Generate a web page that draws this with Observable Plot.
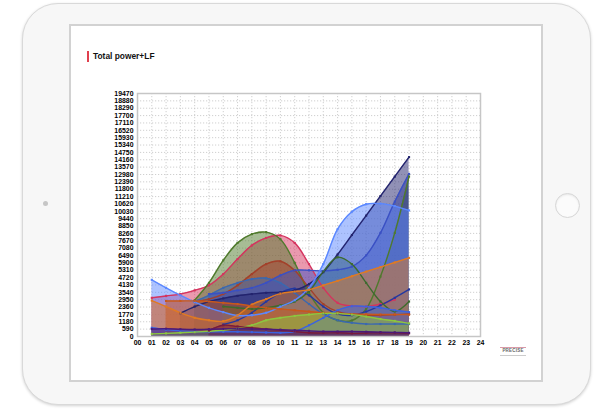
<!DOCTYPE html>
<html><head><meta charset="utf-8">
<script src="https://cdn.jsdelivr.net/npm/d3@7"></script>
<script src="https://cdn.jsdelivr.net/npm/@observablehq/plot@0.6"></script>
<style>
html,body{margin:0;padding:0;background:#fff;width:606px;height:411px;overflow:hidden;font-family:"Liberation Sans",Arial,sans-serif;}
#tablet{position:absolute;left:22px;top:3px;width:569px;height:402px;border-radius:36px;background:#f7f7f7;border:1px solid #d9d9d9;box-shadow:0 1px 3px rgba(0,0,0,0.18);box-sizing:border-box;}
#screen{position:absolute;left:69px;top:24px;width:474px;height:358px;background:#fff;border:2px solid #d2d2d2;box-sizing:border-box;}
#home{position:absolute;left:555px;top:193px;width:25px;height:25px;border-radius:50%;border:1px solid #d6d6d6;box-sizing:border-box;background:#fbfbfb;box-shadow:inset 0 1px 2px rgba(0,0,0,0.08)}
#cam{position:absolute;left:43px;top:201px;width:5px;height:5px;border-radius:50%;background:#c6c6c6}
#title{position:absolute;left:87px;top:51px;border-left:2px solid #e0404e;padding-left:4px;font-weight:bold;font-size:8.4px;line-height:11px;color:#111}
#chart{position:absolute;left:70px;top:80px}
#logo{position:absolute;left:500px;top:343px;width:26px;text-align:center;font-size:4.5px;font-weight:bold;color:#666;letter-spacing:0.2px;line-height:6px}
#logo .sky{height:4px;border-bottom:1px solid #d99aa8;margin-bottom:0px}
#logo .sub{border-top:1px solid #ccc;height:1px;margin-top:1px}
</style>
</head><body>
<div id="tablet"></div>
<div id="cam"></div>
<div id="home"></div>
<div id="screen"></div>
<div id="title">Total power+LF</div>
<div id="chart"></div>
<div id="logo"><div class="sky"></div>PRECISE<div class="sub"></div></div>
<script>
const hours = d3.range(1, 20);
const xTicks = d3.range(0, 25);
const yTicks = d3.range(0, 19471, 590);

const names  = ["purple","maroon","lime","blue2","darkorange","orange","darkblue","darkgreen","steel","sienna","olive","crimson","royal","navy","cornflower"];
const colors = ["#4a1a7a","#7a1a3a","#8cc63f","#3b62e0","#c8581c","#e07a22","#2438a0","#3d6b2e","#3a68b0","#a3402a","#4f7a2c","#d5335e","#3a50c4","#23246e","#5b88ff"];

const cornflower = [4540,3900,3300,2750,2300,1950,1680,1700,1900,2400,2900,3900,5800,8600,10000,10600,10650,10450,10100];
const crimson    = [3100,3250,3400,3700,4100,5000,6200,7300,7900,8100,7500,5800,3900,2700,2450,2400,2600,2950,null];
const olive      = [null,null,null,2900,4300,6100,7500,8200,8360,7800,5900,3500,1900,1300,1280,2200,4800,8300,12820];
const sienna     = [null,null,null,2800,3000,3400,4100,5000,5800,6030,5300,3900,2600,2000,1800,1700,1700,1750,1800];
const navy       = [null,null,1870,2400,2800,3050,3260,3400,3500,3550,3700,4200,5150,6570,8130,9690,11250,12810,14370];
const royal      = [null,null,null,null,3400,3500,3700,3900,4300,4900,5300,5300,5250,5350,5600,6500,8300,10800,13030];
const darkgreen  = [null,null,null,null,null,2400,2300,2200,2300,2500,2800,3600,5200,6350,5800,4300,2800,2000,2800];
const orange     = [2880,2400,1900,1500,1300,1230,1700,2560,3000,3440,3600,3740,4100,4460,4830,5200,5560,5930,6300];
const darkorange = [null,2850,2850,2850,2800,2700,2600,2450,2300,2200,2100,2000,1900,1850,1800,1780,1760,1760,1750];
const lime       = [210,250,300,350,420,500,650,900,1300,1500,1650,1760,1850,1850,1750,1600,1400,1250,1050];
const purple     = [600,620,580,560,580,600,620,600,580,550,500,450,400,400,400,380,350,330,300];
const maroon     = [null,null,null,null,480,900,800,700,600,500,400,300,280,300,250,280,300,300,250];
const blue2      = [700,550,450,400,380,380,380,350,320,300,400,900,1500,2100,2430,2400,2300,2100,1950];
const steel      = [null,null,null,2800,3300,3900,4300,4600,4670,4300,3500,2600,1800,1300,1100,1000,1000,1000,1000];
const darkblue   = [null,null,null,null,null,960,1300,1900,2800,3500,3840,3300,2400,1800,1700,2000,2500,3100,3770];

const valuesByName = {cornflower,crimson,olive,sienna,navy,royal,darkgreen,orange,darkorange,lime,purple,maroon,blue2,steel,darkblue};
const drawOrder = ["crimson","olive","sienna","steel","darkblue","royal","navy","darkgreen","cornflower","orange","darkorange","blue2","lime","maroon","purple"];

const rows = drawOrder.flatMap(name => hours.map((h, i) => ({name, h, v: valuesByName[name][i]})).filter(d => d.v != null));

const chart = Plot.plot({
  width: 470, height: 280,
  marginLeft: 67, marginRight: 60, marginTop: 13, marginBottom: 24,
  style: {fontSize: "6.9px", fontWeight: "bold", fontFamily: "Liberation Sans, Arial, sans-serif", color: "#000", background: "transparent"},
  x: {domain: [0, 24], ticks: xTicks, tickFormat: d => String(d).padStart(2, "0"), tickSize: 0, tickPadding: 4, label: null},
  y: {domain: [0, 19470], ticks: yTicks, tickFormat: d => String(d), tickSize: 0, tickPadding: 4, label: null},
  color: {domain: names, range: colors},
  marks: [
    Plot.ruleX(xTicks, {stroke: "#c4c4c4", strokeDasharray: "1.2,1.8", strokeWidth: 0.8}),
    Plot.ruleY(yTicks, {stroke: "#c4c4c4", strokeDasharray: "1.2,1.8", strokeWidth: 0.8}),
    Plot.areaY(rows, {x: "h", y1: 0, y2: "v", z: "name", fill: "name", fillOpacity: 0.5, curve: "catmull-rom"}),
    Plot.lineY(rows, {x: "h", y: "v", z: "name", stroke: "name", strokeWidth: 1.4, curve: "catmull-rom"}),
    Plot.dot(rows, {x: "h", y: "v", fill: "name", symbol: "square", r: 1.2}),
    Plot.frame({stroke: "#c6c6c6", strokeWidth: 1.5})
  ]
});
document.getElementById("chart").appendChild(chart);
</script>
</body></html>
